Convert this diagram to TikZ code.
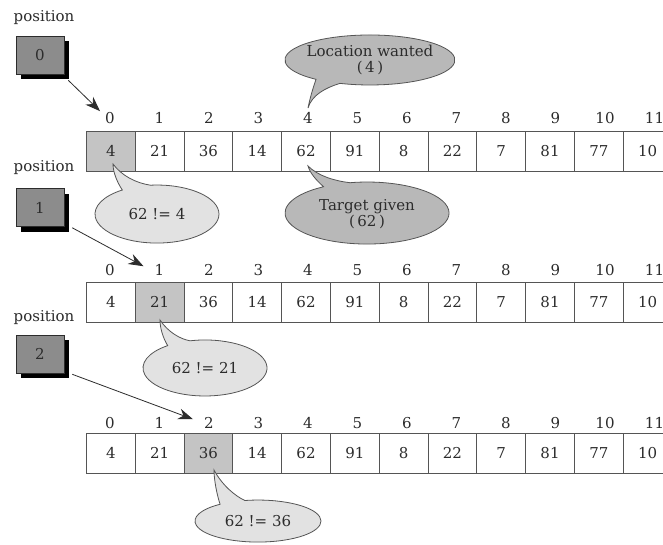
\documentclass[tikz,border=0pt]{standalone}
\usepackage{fontspec}
\setmainfont{DejaVu Serif}
\usetikzlibrary{arrows.meta,shadows}

\definecolor{inkgray}{HTML}{2C2C2C}
\definecolor{linegray}{HTML}{555555}
\definecolor{hlcell}{HTML}{C4C4C4}
\definecolor{posfill}{HTML}{8C8C8C}
\definecolor{bubbledark}{HTML}{B8B8B8}
\definecolor{bubblelight}{HTML}{E2E2E2}

\tikzset{
  txt/.style={text=inkgray, font=\fontsize{15}{16.5}\selectfont, inner sep=1pt},
  cell/.style={txt, draw=linegray, line width=0.8pt, minimum width=48.8pt,
    minimum height=40pt, inner sep=0pt, anchor=north west},
  idx/.style={txt},
  posbox/.style={txt, draw=inkgray, fill=posfill, minimum width=48pt,
    minimum height=38pt, line width=0.6pt,
    drop shadow={shadow xshift=5pt, shadow yshift=-5pt, fill=black, opacity=1}},
  pointer/.style={draw=inkgray, line width=0.8pt,
    -{Stealth[length=15pt,width=11pt]}},
  bubble/.style={draw=linegray, line width=0.8pt},
  bubbleD/.style={bubble, fill=bubbledark},
  bubbleL/.style={bubble, fill=bubblelight},
}

% one row of the array: #1 row name, #2 top edge, #3 index label height, #4 marked cell
\newcommand\arrayrow[4]{%
  \foreach \v [count=\k from 0] in {4,21,36,14,62,91,8,22,7,81,77,10} {
    \ifnum\k=#4 \def\cellfill{hlcell}\else\def\cellfill{white}\fi
    \node[cell, fill=\cellfill] (a#1-\k) at ({86+48.8*\k},#2) {\v};
    \node[idx] (i#1-\k) at ({110+49.5*\k},#3) {\k};
  }%
}

\begin{document}
\begin{tikzpicture}[x=1pt,y=-1pt]
  \path[use as bounding box, clip] (0,0) rectangle (663,544);
  \fill[white] (0,0) rectangle (663,544);

  % the three arrays
  \arrayrow{1}{131}{118}{0}
  \arrayrow{2}{282}{270}{1}
  \arrayrow{3}{433}{423}{2}

  % position markers
  \node[txt] (lab0) at (44,18) {position};
  \node[txt] (lab1) at (44,168) {position};
  \node[txt] (lab2) at (44,318) {position};
  \node[posbox] (p0) at (40,55) {0};
  \node[posbox] (p1) at (40,207.5) {1};
  \node[posbox] (p2) at (40,354) {2};

  \draw[pointer] ([xshift=4pt,yshift=-6pt]p0.south east) -- ([xshift=-4pt]i1-0.north west);
  \draw[pointer] ([xshift=8pt,yshift=-1pt]p1.south east) -- ([xshift=-10pt,yshift=-3pt]i2-1.north west);
  \draw[pointer] ([xshift=8pt,yshift=-1pt]p2.south east) -- ([xshift=-10pt,yshift=-3pt]i3-2.north west);

  % callout: location wanted
  \path[bubbleD] (316,79.3) arc[start angle=129.4, end angle=470.7, x radius=85, y radius=25]
    .. controls (325,88) and (312,95) .. (308,108)
    .. controls (310,98) and (313,88) .. (316,79.3) -- cycle;
  \node[txt, align=center] (lw) at (370,60) {Location wanted\\(\,4\,)};

  % callout: target given
  \path[bubbleD] (350,182.7) arc[start angle=258, end angle=598, x radius=82, y radius=31]
    .. controls (316,180) and (310,173) .. (308,166)
    .. controls (318,176) and (335,181) .. (350,182.7) -- cycle;
  \node[txt, align=center] (tg) at (367,214) {Target given\\(\,62\,)};

  % callout: 62 != 4
  \path[bubbleL] (150.5,185.2) arc[start angle=264, end angle=596, x radius=62, y radius=29]
    .. controls (117,182) and (113,172) .. (113,164)
    .. controls (122,176) and (136,183) .. (150.5,185.2) -- cycle;
  \node[txt] (c0) at (157,214) {62 != 4};

  % callout: 62 != 21
  \path[bubbleL] (190,340.8) arc[start angle=256, end angle=593, x radius=62, y radius=28]
    .. controls (163,338) and (160,328) .. (160,320)
    .. controls (168,332) and (180,339) .. (190,340.8) -- cycle;
  \node[txt] (c1) at (205,368) {62 != 21};

  % callout: 62 != 36
  \path[bubbleL] (244.9,500.5) arc[start angle=258, end angle=593, x radius=63, y radius=21]
    .. controls (217,495) and (214,480) .. (214,470)
    .. controls (222,485) and (235,496) .. (244.9,500.5) -- cycle;
  \node[txt] (c2) at (258,521) {62 != 36};
\end{tikzpicture}
\end{document}
